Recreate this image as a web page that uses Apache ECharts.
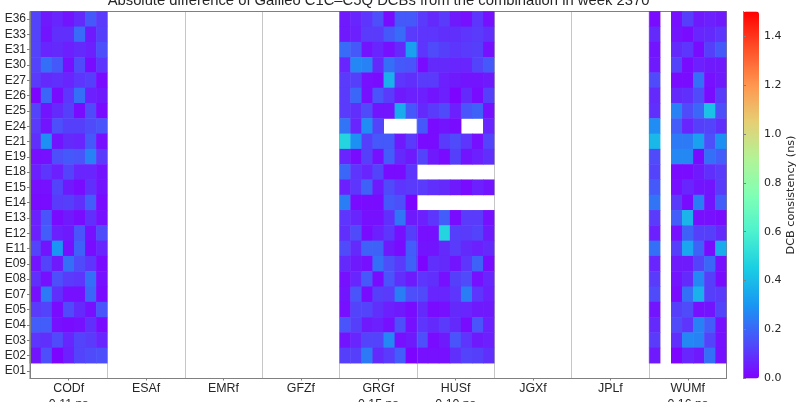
<!DOCTYPE html>
<html><head><meta charset="utf-8">
<style>html,body{margin:0;padding:0;background:#fff}#c{width:800px;height:402px}</style>
<script src="https://cdn.jsdelivr.net/npm/echarts@6/dist/echarts.min.js"></script>
</head><body><div id="c"></div>
<script>
const satellites = ['E36','E33','E31','E30','E27','E26','E25','E24','E21','E19','E18','E15','E14','E13','E12','E11','E09','E08','E07','E05','E04','E03','E02','E01'];
const centres = ['CODf','ESAf','EMRf','GFZf','GRGf','HUSf','JGXf','JPLf','WUMf'];
const centreNotes = ['0.11 ns','','','','0.15 ns','0.10 ns','','','0.16 ns'];
const _ = null;
const none = [_,_,_,_,_,_,_];
const CODf = [
[.13,.05,.07,.04,.08,.17,.11],[.13,.04,.09,.09,.21,.05,.12],[.13,.07,.08,.06,.08,.06,.15],[.13,.22,.17,.03,.14,.02,.10],
[.11,.08,.09,.07,.10,.12,.02],[.01,.20,.02,.10,.22,.06,.05],[.13,.04,.08,.12,.02,.14,.02],[.11,.04,.15,.12,.12,.14,.16],
[.09,.29,.04,.08,.07,.17,.03],[.03,.03,.15,.17,.16,.26,.11],[.06,.10,.06,.13,.07,.07,.04],[.03,.03,.13,.05,.02,.09,.04],
[.02,.02,.11,.12,.09,.18,.02],[.06,.16,.02,.05,.02,.09,.03],[.06,.18,.06,.05,.16,.03,.14],[.13,.04,.30,.03,.19,.02,.07],
[.04,.13,.05,.22,.14,.10,.02],[.09,.03,.15,.11,.10,.22,.03],[.03,.24,.09,.03,.03,.20,.02],[.11,.13,.02,.14,.08,.03,.16],
[.18,.18,.03,.02,.03,.09,.02],[.10,.09,.14,.07,.13,.11,.07],[.04,.15,.01,.06,.13,.14,.15],none];
const GRGf = [
[.05,.07,.10,.15,.02,.17,.17],[.05,.06,.11,.11,.17,.21,.11],[.21,.17,.04,.07,.03,.08,.33],[.07,.27,.26,.08,.22,.17,.16],
[.11,.12,.03,.02,.37,.10,.09],[.11,.20,.03,.16,.11,.05,.06],[.11,.09,.14,.04,.04,.36,.17],[.23,.07,.28,.13,_,_,_],
[.48,.29,.12,.17,.17,.05,.11],[.07,.02,.12,.03,.18,.08,.05],[.20,.10,.07,.13,.02,.02,.10],[.06,.10,.19,.05,.14,.10,.11],
[.25,.02,.02,.02,.17,.15,.01],[.10,.07,.03,.03,.09,.23,.05],[.09,.14,.02,.06,.10,.03,.12],[.14,.08,.19,.19,.05,.02,.18],
[.08,.05,.03,.22,.15,.11,.19],[.03,.07,.17,.02,.16,.09,.05],[.04,.16,.02,.12,.11,.25,.15],[.03,.13,.13,.09,.06,.05,.02],
[.16,.12,.05,.06,.03,.15,.03],[.04,.07,.13,.13,.27,.03,.05],[.12,.12,.24,.08,.11,.18,.01],none];
const HUSf = [
[.11,.08,.11,.05,.03,.10,.03],[.10,.10,.09,.09,.10,.11,.09],[.10,.14,.12,.10,.11,.12,.03],[.02,.08,.08,.07,.07,.13,.17],
[.11,.11,.06,.05,.04,.04,.05],[.06,.04,.06,.01,.08,.02,.12],[.08,.11,.14,.06,.16,.19,.03],[.17,.02,.04,.02,_,_,.07],
[.02,.02,.11,.14,.10,.03,.13],[.13,.05,.02,.12,.04,.06,.09],none,[.11,.09,.08,.05,.02,.06,.04],
none,[.06,.10,.18,.02,.11,.11,.03],[.03,.03,.48,.12,.11,.13,.05],[.04,.04,.08,.11,.08,.06,.08],
[.01,.09,.08,.04,.10,.19,.02],[.10,.09,.03,.12,.14,.03,.07],[.14,.07,.07,.10,.25,.10,.06],[.08,.02,.03,.08,.07,.05,.05],
[.10,.08,.11,.08,.02,.16,.06],[.15,.02,.05,.16,.10,.05,.06],[.03,.03,.03,.09,.13,.12,.09],none];
const WUMf = [
[.02,_,.03,.12,.05,.06,.05],[.08,_,.04,.02,.07,.08,.10],[.04,_,.08,.10,.02,.12,.17],[.05,_,.13,.02,.06,.05,.05],
[.14,_,.02,.02,.22,.03,.05],[.08,_,.08,.09,.14,.02,.11],[.09,_,.26,.14,.20,.42,.15],[.28,_,.18,.07,.12,.13,.09],
[.39,_,.24,.24,.33,.15,.29],[.14,_,.27,.27,.02,.22,.18],[.13,_,.02,.02,.05,.09,.11],[.17,_,.03,.07,.04,.04,.11],
[.23,_,.11,.02,.25,.04,.18],[.11,_,.18,.38,.03,.03,.02],[.06,_,.03,.19,.12,.12,.08],[.22,_,.12,.34,.19,.02,.36],
[.07,_,.05,.05,.13,.20,.03],[.11,_,.04,.08,.27,.12,.02],[.14,_,.02,.22,.37,.12,.11],[.04,_,.12,.14,.03,.04,.13],
[.08,_,.14,.10,.26,.18,.03],[.11,_,.09,.27,.26,.13,.03],[.05,_,.01,.07,.05,.22,.03],none];
const centreData = {CODf, GRGf, HUSf, WUMf};
const daysPerCentre = 7;
const colourStops = ['#8000ff','#4c4ffa','#1996f3','#1acee3','#4df2ce','#80ffb4','#b3f396','#e6ce74','#ff964f','#ff4f28','#ff0000'];

const cells = [];
centres.forEach((c, ci) => {
  const m = centreData[c];
  if (!m) return;
  m.forEach((row, ri) => row.forEach((v, di) => {
    if (v !== null) cells.push([ci * daysPerCentre + di, ri, v]);
  }));
});
const colCats = Array.from({length: centres.length * daysPerCentre}, (_, i) => String(i));
const L = 30, R = 73.5, T = 11.5, H = 367;
const axisGrey = '#808080', txt = '#262626', lab = 'Liberation Sans';

const chart = echarts.init(document.getElementById('c'), null, {renderer: 'canvas'});
chart.setOption({
  animation: false,
  backgroundColor: '#fff',
  title: {text: 'Absolute difference of Galileo C1C\u2013C5Q DCBs from the combination in week 2370',
    left: 373.5, textAlign: 'center', top: -12,
    textStyle: {fontFamily: lab, fontSize: 14.8, fontWeight: 'normal', color: txt}},
  grid: [
    {left: L, right: R, top: T, height: H, show: true, borderColor: axisGrey, borderWidth: 1, backgroundColor: 'transparent', outerBoundsMode: 'none', containLabel: false},
    {left: 743, width: 16, top: T, height: H, show: false, outerBoundsMode: 'none', containLabel: false}
  ],
  xAxis: [
    {type: 'category', gridIndex: 0, data: colCats, show: false},
    {type: 'category', gridIndex: 0, data: centres, position: 'bottom', z: 6,
     axisLine: {show: true, lineStyle: {color: axisGrey}},
     axisTick: {show: true, alignWithLabel: true, length: 2, lineStyle: {color: axisGrey}},
     splitLine: {show: true, lineStyle: {color: 'rgba(128,128,128,0.45)', width: 1}},
     axisLabel: {interval: 0, fontFamily: lab, fontSize: 12.4, color: txt, margin: 2, lineHeight: 16, hideOverlap: false,
       formatter: (v, i) => centreNotes[i] ? v + '\n' + centreNotes[i] : v}},
    {type: 'value', gridIndex: 1, min: 0, max: 1, show: false}
  ],
  yAxis: [
    {type: 'category', gridIndex: 0, data: satellites, inverse: true, z: 6,
     axisLine: {show: true, lineStyle: {color: axisGrey}},
     axisTick: {show: true, alignWithLabel: true, length: 3, lineStyle: {color: axisGrey}},
     splitLine: {show: false},
     axisLabel: {interval: 0, fontFamily: lab, fontSize: 12, color: txt, margin: 4}},
    {type: 'value', gridIndex: 1, min: 0, max: 1.5, interval: 0.2, position: 'right', z: 6,
     axisLine: {show: true, lineStyle: {color: axisGrey}},
     axisTick: {show: true, length: 3, lineStyle: {color: axisGrey}},
     splitLine: {show: false},
     axisLabel: {fontFamily: 'DejaVu Sans', fontSize: 11, color: txt, margin: 5,
       showMaxLabel: false, formatter: v => v.toFixed(1)},
     name: 'DCB consistency (ns)', nameLocation: 'middle', nameRotate: 90, nameGap: 23,
     nameTextStyle: {fontFamily: 'DejaVu Sans', fontSize: 11.2, color: txt}}
  ],
  visualMap: {
    type: 'continuous', min: 0, max: 1.5, seriesIndex: 0, calculable: false, realtime: false,
    left: 743, top: T, itemWidth: 16, itemHeight: H, text: null, showLabel: false, padding: 0,
    inRange: {color: colourStops}
  },
  series: [{
    type: 'heatmap', xAxisIndex: 0, yAxisIndex: 0, data: cells, z: 2,
    itemStyle: {borderWidth: 0},
    emphasis: {disabled: true}
  }]
});
</script></body></html>
